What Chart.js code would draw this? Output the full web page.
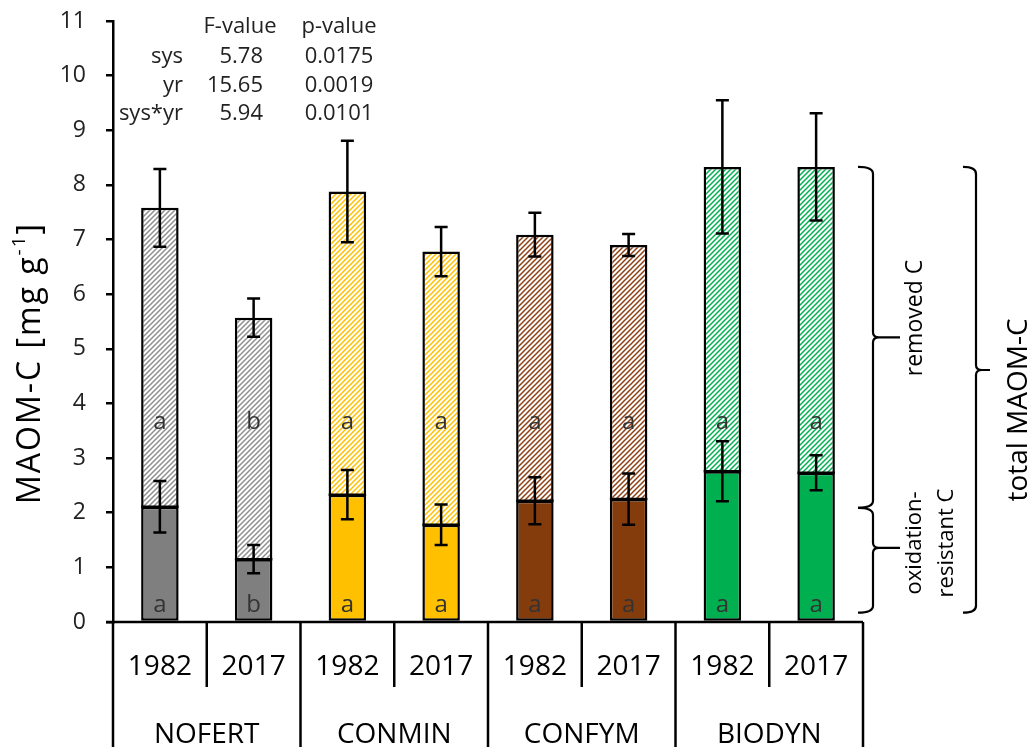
<!DOCTYPE html>
<html><head><meta charset="utf-8">
<script src="https://cdn.jsdelivr.net/npm/chart.js@4.4.0/dist/chart.umd.min.js"></script>
<style>html,body{margin:0;padding:0;background:#fff;}#wrap{width:1035px;height:747px;}</style>
</head><body><div id="wrap"><canvas id="c" width="1035" height="747"></canvas></div>
<script>
// ---- data ----
const years = ['1982','2017','1982','2017','1982','2017','1982','2017'];
const systems = ['NOFERT','CONMIN','CONFYM','BIODYN'];
const totalC = [7.58, 5.57, 7.88, 6.78, 7.09, 6.90, 8.33, 8.33];
const totalErr = [0.71, 0.35, 0.93, 0.45, 0.40, 0.20, 1.22, 0.98];
const resistantC = [2.11, 1.15, 2.33, 1.78, 2.22, 2.25, 2.76, 2.73];
const resistantErr = [0.47, 0.26, 0.45, 0.37, 0.43, 0.47, 0.55, 0.32];
const removedLetters = ['a','b','a','a','a','a','a','a'];
const resistantLetters = ['a','b','a','a','a','a','a','a'];
const statTerms = ['sys','yr','sys*yr'];
const fValues = ['5.78','15.65','5.94'];
const pValues = ['0.0175','0.0019','0.0101'];
const yMin = 0, yMax = 11, yStep = 1;

// ---- styling ----
const FONT = '"Open Sans", "Noto Sans", sans-serif';
const sysColors = ['#7F7F7F','#FFC000','#843C0C','#00B050'];
const hatchColors = ['#8f8f8f','#FFC000','#8f4012','#00B050'];
function hatch(color){
  const s=5, c=document.createElement('canvas'); c.width=s; c.height=s;
  const x=c.getContext('2d');
  x.fillStyle='#fff'; x.fillRect(0,0,s,s);
  x.strokeStyle=color; x.lineWidth=1.5;
  x.beginPath();
  x.moveTo(-1,s+1); x.lineTo(s+1,-1);
  x.moveTo(-1,1); x.lineTo(1,-1);
  x.moveTo(s-1,s+1); x.lineTo(s+1,s-1);
  x.stroke();
  return x.createPattern(c,'repeat');
}
const barSolid = years.map((_,i)=>sysColors[Math.floor(i/2)]);
const barHatch = years.map((_,i)=>hatch(hatchColors[Math.floor(i/2)]));
const removedC = totalC.map((t,i)=>t-resistantC[i]);

const extras = {
  id:'extras',
  afterDatasetsDraw(chart){
    const ctx=chart.ctx, y=chart.scales.y;
    const m0=chart.getDatasetMeta(0);
    ctx.save();
    // junction line between the two stacked segments
    ctx.strokeStyle='#000'; ctx.lineWidth=2.5;
    m0.data.forEach(b=>{
      ctx.beginPath(); ctx.moveTo(b.x-b.width/2,b.y); ctx.lineTo(b.x+b.width/2,b.y); ctx.stroke();
    });
    // letters
    ctx.fillStyle='#333'; ctx.font='24px '+FONT; ctx.textAlign='center'; ctx.textBaseline='middle';
    m0.data.forEach((b,i)=>{
      ctx.fillText(removedLetters[i], b.x, y.getPixelForValue(3.65));
      ctx.fillText(resistantLetters[i], b.x, y.getPixelForValue(0.31));
    });
    // error bars
    ctx.strokeStyle='#000'; ctx.lineWidth=2.5; ctx.lineCap='butt';
    const eb=(x,v,e)=>{
      const t=y.getPixelForValue(v+e), l=y.getPixelForValue(v-e);
      ctx.beginPath();
      ctx.moveTo(x,t); ctx.lineTo(x,l);
      ctx.moveTo(x-6.5,t); ctx.lineTo(x+6.5,t);
      ctx.moveTo(x-6.5,l); ctx.lineTo(x+6.5,l);
      ctx.stroke();
    };
    m0.data.forEach((b,i)=>{ eb(b.x,totalC[i],totalErr[i]); eb(b.x,resistantC[i],resistantErr[i]); });
    ctx.restore();
  },
  afterDraw(chart){
    const ctx=chart.ctx, a=chart.chartArea, y=chart.scales.y, xs=chart.scales.x;
    const n=years.length, cw=(a.right-a.left)/n;
    ctx.save();
    ctx.strokeStyle='#000'; ctx.lineWidth=2.5;
    // x axis line
    ctx.beginPath(); ctx.moveTo(a.left-7,a.bottom); ctx.lineTo(a.right,a.bottom); ctx.stroke();
    // separators
    for(let i=0;i<=n;i++){
      const x=a.left+i*cw;
      ctx.beginPath(); ctx.moveTo(x,a.bottom);
      ctx.lineTo(x, i%2===0 ? 747 : a.bottom+65);
      ctx.stroke();
    }
    ctx.fillStyle='#000'; ctx.textAlign='center'; ctx.textBaseline='middle';
    ctx.font='28px '+FONT;
    years.forEach((t,i)=>ctx.fillText(t, xs.getPixelForValue(i), a.bottom+45));
    systems.forEach((t,g)=>ctx.fillText(t, a.left+(2*g+1)*cw, a.bottom+113));
    // stats table
    ctx.font='22px '+FONT; ctx.fillStyle='#222';
    ctx.textAlign='center';
    ctx.fillText('F-value',240,27); ctx.fillText('p-value',339,27);
    statTerms.forEach((t,i)=>{
      const yy=57+i*28.3;
      ctx.textAlign='right'; ctx.fillText(t,183,yy); ctx.fillText(fValues[i],263,yy);
      ctx.textAlign='center'; ctx.fillText(pValues[i],339,yy);
    });
    // y title
    ctx.save(); ctx.translate(31,363); ctx.rotate(-Math.PI/2);
    ctx.fillStyle='#000';
    try{ ctx.letterSpacing='2px'; }catch(e){}
    const main='MAOM-C [mg g', sup='-1', end=']';
    ctx.font='32px '+FONT; const w1=ctx.measureText(main).width, w3=ctx.measureText(end).width;
    ctx.font='19px '+FONT; const w2=ctx.measureText(sup).width;
    let sx=-(w1+w2+w3)/2;
    ctx.textAlign='left';
    ctx.font='32px '+FONT; ctx.fillText(main,sx,0); sx+=w1;
    ctx.font='19px '+FONT; ctx.fillText(sup,sx,-11); sx+=w2;
    ctx.font='32px '+FONT; ctx.fillText(end,sx,0);
    ctx.restore();
    // braces
    const brace=(x,yT,yB,yM,tip,curl)=>{
      ctx.beginPath();
      ctx.moveTo(x-curl,yT); ctx.quadraticCurveTo(x,yT,x,yT+7);
      ctx.lineTo(x,yM-5); ctx.quadraticCurveTo(x,yM,x+6,yM);
      ctx.lineTo(x+tip,yM);
      ctx.moveTo(x+6,yM); ctx.quadraticCurveTo(x,yM,x,yM+5);
      ctx.lineTo(x,yB-7); ctx.quadraticCurveTo(x,yB,x-curl,yB);
      ctx.stroke();
    };
    ctx.lineWidth=2.2;
    const pTop=y.getPixelForValue(8.33), pSplit=y.getPixelForValue(2.09), pBot=y.getPixelForValue(0.17);
    brace(873,pTop,pSplit,(pTop+pSplit)/2,27,15);
    brace(873,pSplit,pBot,pSplit+40,27,15);
    brace(976,pTop,pBot,370,14,13);
    const vtext=(t,x,yy,size)=>{
      ctx.save(); ctx.translate(x,yy); ctx.rotate(-Math.PI/2);
      ctx.font=size+'px '+FONT; ctx.fillStyle='#000'; ctx.textAlign='center'; ctx.textBaseline='middle';
      ctx.fillText(t,0,0); ctx.restore();
    };
    vtext('removed C',915,318,23);
    vtext('oxidation-',915,543,22);
    vtext('resistant C',947,543,22);
    vtext('total MAOM-C',1019,410,28);
    ctx.restore();
  }
};

new Chart(document.getElementById('c'),{
  type:'bar',
  data:{
    labels: years.map((y,i)=>systems[Math.floor(i/2)]+' '+y),
    datasets:[
      {label:'oxidation-resistant C', data:resistantC, backgroundColor:barSolid, borderColor:'#000', borderWidth:2.5, borderSkipped:false, categoryPercentage:0.8, barPercentage:0.5},
      {label:'removed C', data:removedC, backgroundColor:barHatch, borderColor:'#000', borderWidth:2.5, borderSkipped:'bottom', categoryPercentage:0.8, barPercentage:0.5}
    ]
  },
  options:{
    responsive:false, animation:false,
    layout:{padding:{left:0,right:172,top:21,bottom:125}},
    plugins:{legend:{display:false},tooltip:{enabled:false}},
    scales:{
      x:{stacked:true, display:false},
      y:{stacked:true, min:yMin, max:yMax,
        ticks:{stepSize:yStep, font:{family:FONT,size:23}, color:'#222', padding:20},
        grid:{drawOnChartArea:false, drawTicks:true, tickLength:7, color:'#000', lineWidth:2.5},
        border:{display:true, color:'#000', width:2.5},
        afterFit(s){ s.width=113; s.paddingTop=0; s.paddingBottom=0; }
      }
    }
  },
  plugins:[extras]
});
</script></body></html>
